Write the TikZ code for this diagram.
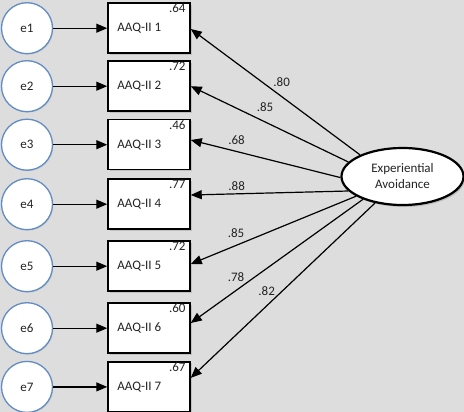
\documentclass[tikz,border=0pt]{standalone}
\usepackage{fontspec}
\setmainfont{Carlito}
\usetikzlibrary{arrows.meta,shadows,calc,shapes.geometric}
\definecolor{bgc}{RGB}{221,221,221}
\definecolor{circc}{RGB}{98,140,196}
\definecolor{txtc}{RGB}{35,35,35}
\tikzset{
  errc/.style={circle,draw=circc,line width=1.3pt,fill=white,minimum size=51pt,inner sep=0pt,
    text=txtc,font=\fontsize{13}{15}\selectfont,
    drop shadow={opacity=0.18,shadow xshift=1pt,shadow yshift=-1pt}},
  itembox/.style={rectangle,draw=black,line width=1.5pt,fill=white,minimum width=82pt,minimum height=50pt,inner sep=0pt,
    drop shadow={opacity=0.3,shadow xshift=1.5pt,shadow yshift=-1.5pt}},
  itemtxt/.style={anchor=west,inner sep=0pt,text=txtc,font=\fontsize{13}{15}\selectfont},
  rtxt/.style={anchor=north east,inner sep=0pt,text=txtc,font=\fontsize{13}{15}\selectfont},
  lat/.style={ellipse,draw=black,line width=2.2pt,fill=white,minimum width=122pt,minimum height=57pt,inner sep=0pt,
    align=center,text=txtc,font=\fontsize{13}{16}\selectfont,
    drop shadow={opacity=0.35,shadow xshift=1.5pt,shadow yshift=-2pt}},
  arr/.style={line width=1.2pt,-{Triangle[length=11pt,width=9pt]}},
  lbl/.style={inner sep=0pt,text=txtc,font=\fontsize{13}{15}\selectfont}
}
\begin{document}
\begin{tikzpicture}[x=1pt,y=-1pt]
\useasboundingbox (0,0) rectangle (464,412);
\clip (0,0) rectangle (464,412);
\fill[bgc] (0,0) rectangle (464,412);
% boxes
\node[itembox] (b1) at (149,28.2) {};
\node[itembox] (b2) at (149,86.2) {};
\node[itembox] (b3) at (149,144.7) {};
\node[itembox] (b4) at (149,204.2) {};
\node[itembox] (b5) at (149,266.2) {};
\node[itembox] (b6) at (149,328.2) {};
\node[itembox] (b7) at (149,386.9) {};
\foreach \i/\r in {1/.64,2/.72,3/.46,4/.77,5/.72,6/.60,7/.67}{
  \node[itemtxt] (t\i) at ($(b\i.west)+(10,0)$) {AAQ-II \i};
  \node[rtxt] (r\i) at ($(b\i.north east)+(-5,1.5)$) {\r};
}
% error circles
\foreach \i/\y in {1/28.2,2/86.2,3/144.7,4/204.2,5/266.2,6/328.2,7/386.9}{
  \node[errc] (e\i) at (27,\y) {e\i};
  \draw[arr] (e\i) -- (b\i);
}
% latent
\node[lat] (ev) at (402.5,176.5) {Experiential\\Avoidance};
\draw[arr] (ev.153) -- ($(b1.east)+(0,0.8)$);
\draw[arr] (ev.165.5) -- ($(b2.east)+(0,0)$);
\draw[arr] (ev.181) -- ($(b3.east)+(0,-4.7)$);
\draw[arr] (ev.195) -- ($(b4.east)+(0,-9.2)$);
\draw[arr] (ev.203) -- ($(b5.east)+(0,-2.2)$);
\draw[arr] (ev.210) -- ($(b6.east)+(0,-5.2)$);
\draw[arr] (ev.224) -- ($(b7.east)+(0,-9)$);
% loadings
\node[lbl] (l1) at (281.7,81.7) {.80};
\node[lbl] (l2) at (265,106.7) {.85};
\node[lbl] (l3) at (236.5,140.5) {.68};
\node[lbl] (l4) at (236.7,186) {.88};
\node[lbl] (l5) at (236,233.3) {.85};
\node[lbl] (l6) at (236,277.3) {.78};
\node[lbl] (l7) at (266.7,290.7) {.82};
\end{tikzpicture}
\end{document}
